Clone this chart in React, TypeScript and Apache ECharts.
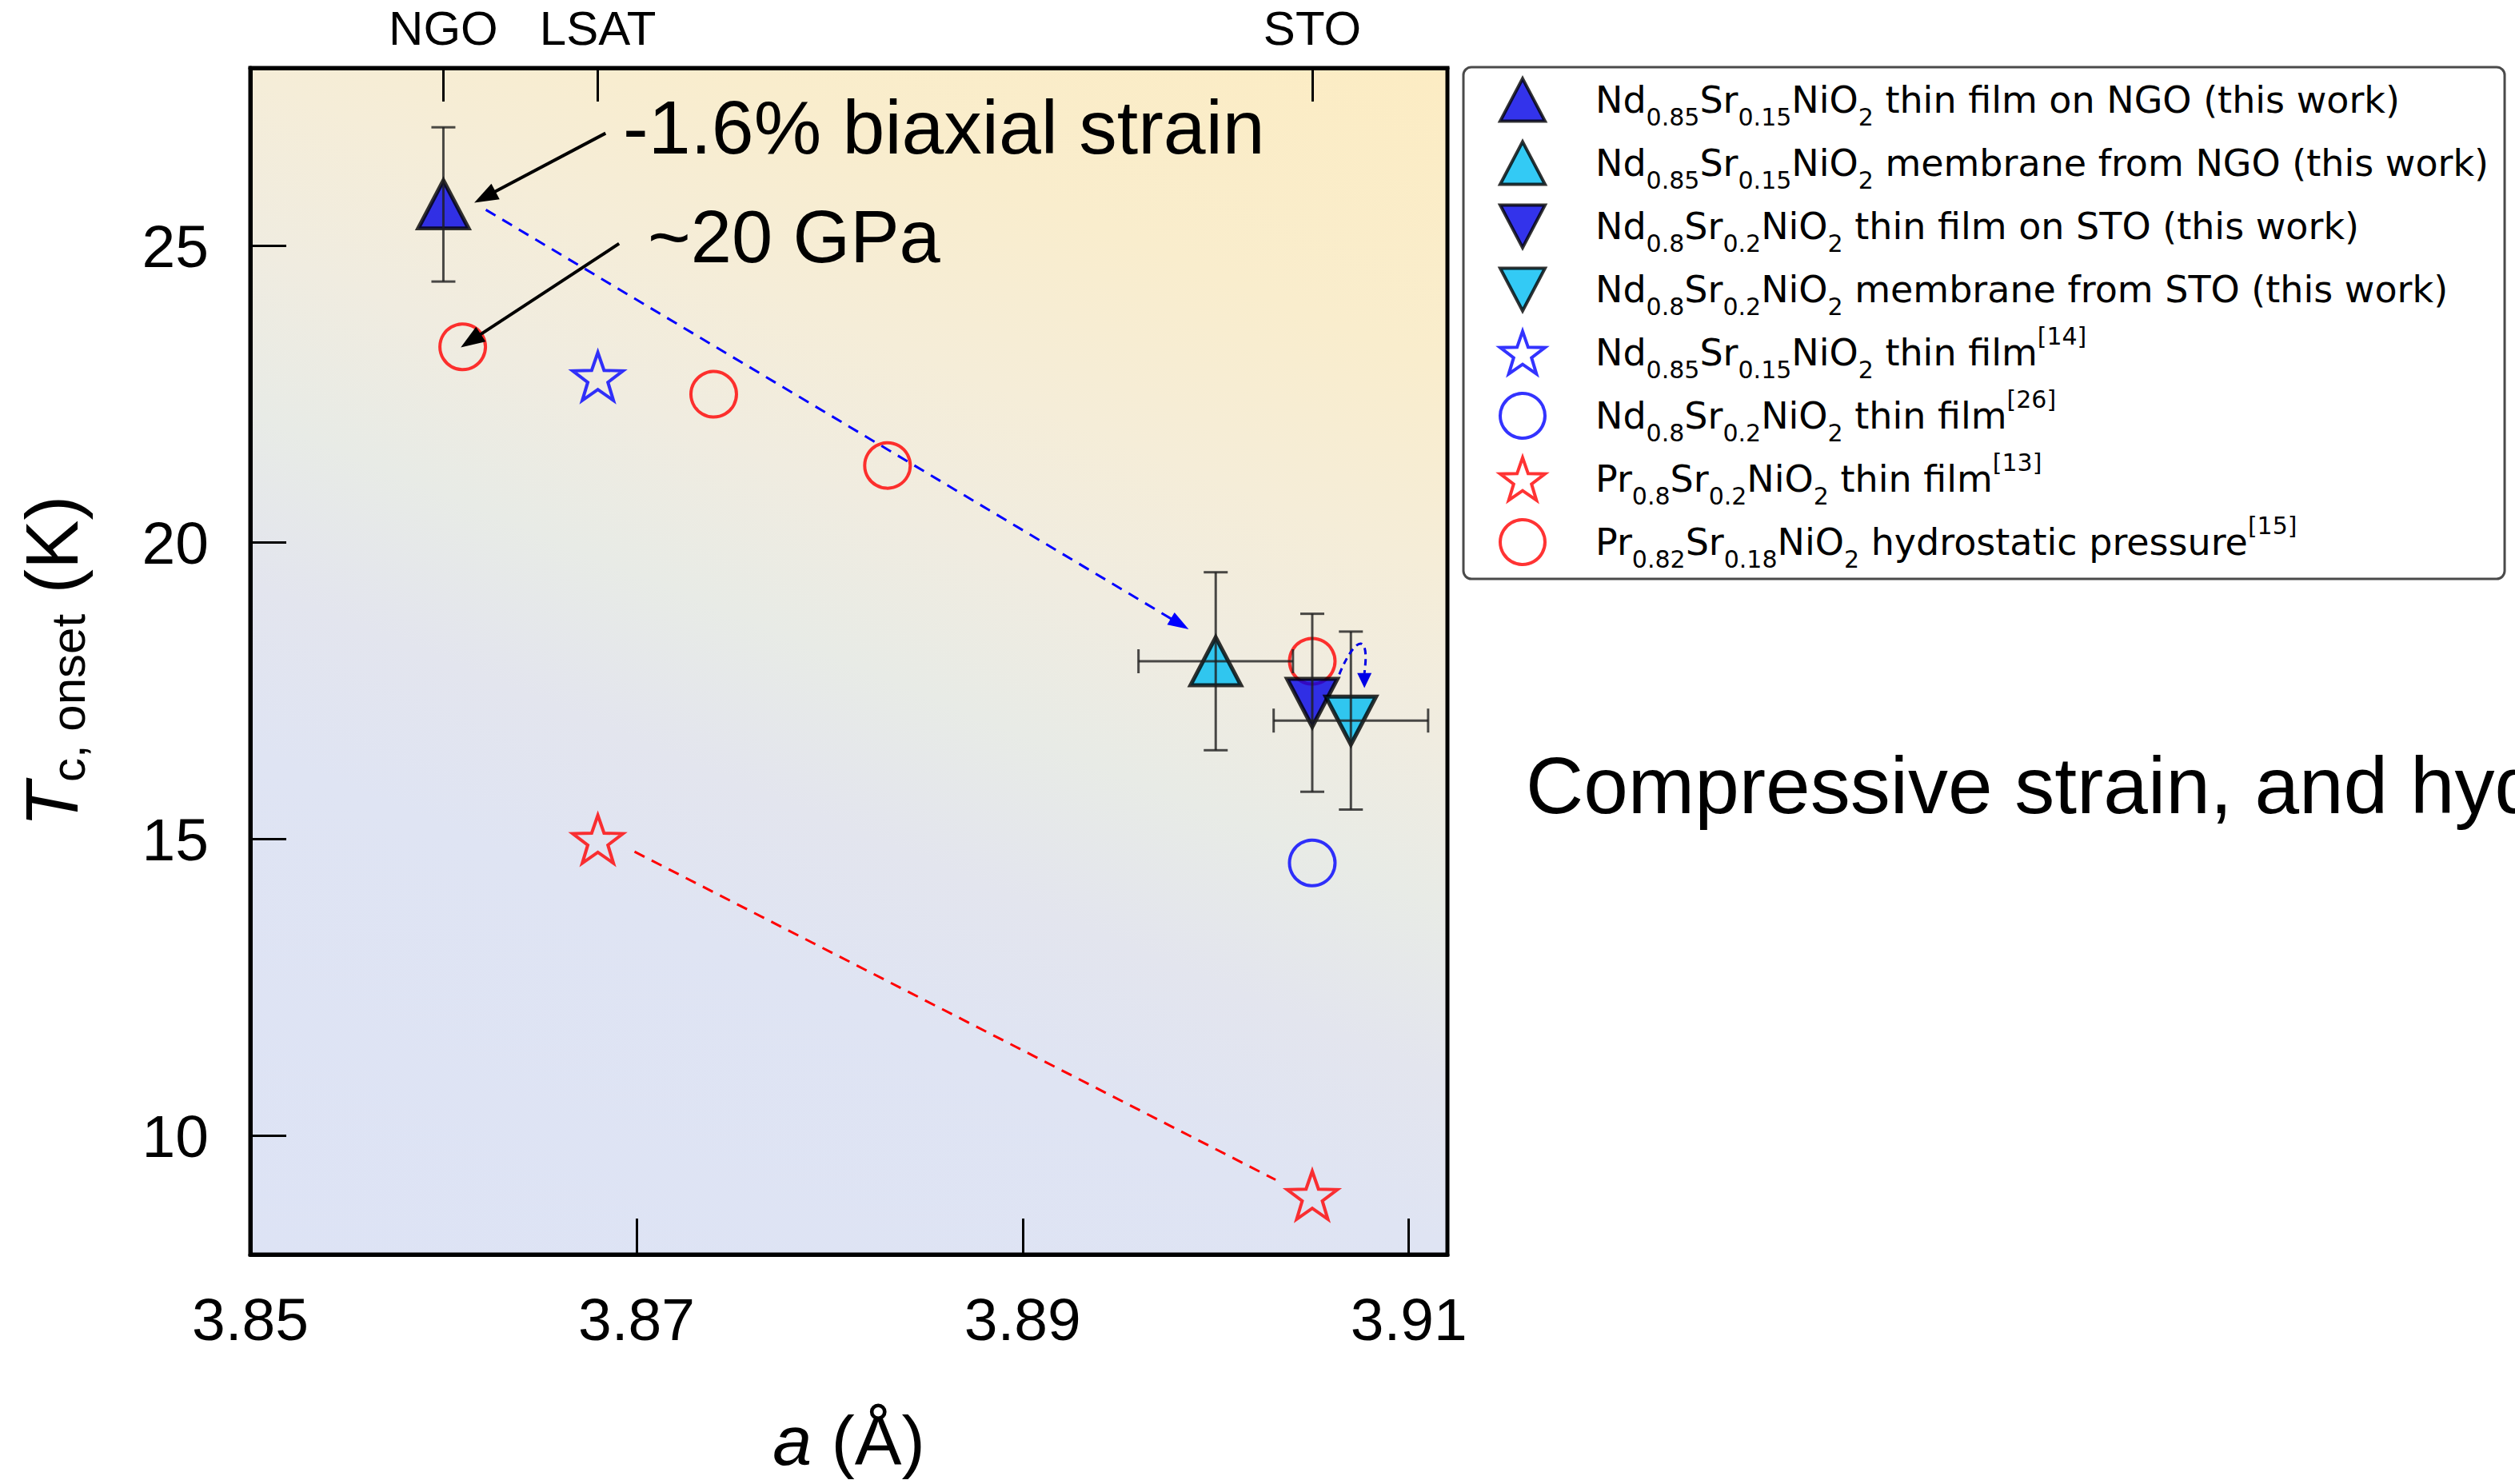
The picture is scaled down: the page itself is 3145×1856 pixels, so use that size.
import React, { useEffect, useRef } from "react";
import * as echarts from "echarts";

// ---------- axes ----------
const X_MIN = 3.85;
const X_MAX = 3.912;
const Y_MIN = 8;
const Y_MAX = 28;
const xTickValues = [3.85, 3.87, 3.89, 3.91];
const yTickValues = [10, 15, 20, 25];
const substrateNames = ["NGO", "LSAT", "STO"];
const substrateLattice = [3.86, 3.868, 3.905];

// ---------- series ----------
const seriesNames = [
  "Nd0.85Sr0.15NiO2 thin film on NGO (this work)",
  "Nd0.85Sr0.15NiO2 membrane from NGO (this work)",
  "Nd0.8Sr0.2NiO2 thin film on STO (this work)",
  "Nd0.8Sr0.2NiO2 membrane from STO (this work)",
  "Nd0.85Sr0.15NiO2 thin film[14]",
  "Nd0.8Sr0.2NiO2 thin film[26]",
  "Pr0.8Sr0.2NiO2 thin film[13]",
  "Pr0.82Sr0.18NiO2 hydrostatic pressure[15]",
];
const filmOnNGO = [[3.86, 25.7]];
const membraneFromNGO = [[3.9, 18.0]];
const filmOnSTO = [[3.905, 17.3]];
const membraneFromSTO = [[3.907, 17.0]];
const ndFilmRef14 = [[3.868, 22.8]];
const ndFilmRef26 = [[3.905, 14.6]];
const prFilmRef13 = [
  [3.868, 15.0],
  [3.905, 9.0],
];
const prPressureRef15 = [
  [3.861, 23.3],
  [3.874, 22.5],
  [3.883, 21.3],
  [3.905, 18.0],
];

// [a, Tc, Tc low, Tc high, a half-error]
const errorBars = [
  [3.86, 25.7, 24.4, 27.0, 0],
  [3.9, 18.0, 16.5, 19.5, 0.004],
  [3.905, 17.3, 15.8, 18.8, 0],
  [3.907, 17.0, 15.5, 18.5, 0.004],
];

// ---------- annotations (data coordinates): [start a, start Tc, tip a, tip Tc] ----------
const blackArrows = [
  [3.8684, 26.9, 3.8616, 25.73],
  [3.8691, 25.04, 3.8609, 23.29],
];
const membraneArrow = [[3.8622, 25.61, 3.8986, 18.54]];
const prGuide = [[3.8699, 14.79, 3.9031, 9.26]];
// start, control 1, control 2, shaft end, arrow tip
const stoHook = [
  [3.9064, 17.78],
  [3.9072, 18.41],
  [3.908, 18.52],
  [3.9077, 17.8],
  [3.9077, 17.55],
];

const FONT = "Liberation Sans";
const LEGEND_FONT = "DejaVu Sans";

const TRI_UP = "path://M50,0 L100,95 L0,95 Z";
const TRI_DOWN = "path://M0,0 L100,0 L50,95 Z";
const STAR =
  "path://M50,0 L61.76,33.82 L97.55,34.55 L69.02,56.18 L79.39,90.45 L50,70 L20.61,90.45 L30.98,56.18 L2.45,34.55 L38.24,33.82 Z";

const DARK_BLUE = "#0000e6";
const CYAN = "#00bdf2";
const BLUE = "#0000ff";
const RED = "#ff0000";
const CLEAR = "rgba(0,0,0,0)";

function legendRich(name: string): string {
  const m = name.match(/^(\S+)(.*?)(\[\d+\])?$/);
  if (!m) return name;
  let s = "{sp| }";
  m[1].replace(/([A-Z][a-z]?)([\d.]*)/g, (_: string, el: string, num: string) => {
    s += `{n|${el}}`;
    if (num) s += `{b|${num}}`;
    return "";
  });
  s += `{n|${m[2]}}`;
  if (m[3]) s += `{p|${m[3]}}`;
  return s;
}

function substrateLabel(v: number): string {
  let best = 0;
  substrateLattice.forEach((a, i) => {
    if (Math.abs(a - v) < Math.abs(substrateLattice[best] - v)) best = i;
  });
  return substrateNames[best];
}

function arrowSeries(
  name: string,
  data: number[][],
  color: string,
  width: number,
  dash: number[] | null,
  headLen: number,
  headHalf: number,
  z: number
) {
  return {
    name,
    type: "custom",
    data,
    encode: { x: [0, 2], y: [1, 3] },
    clip: false,
    silent: true,
    z,
    renderItem: (_params: any, api: any) => {
      const p1 = api.coord([api.value(0), api.value(1)]);
      const p2 = api.coord([api.value(2), api.value(3)]);
      const dx = p2[0] - p1[0];
      const dy = p2[1] - p1[1];
      const len = Math.hypot(dx, dy) || 1;
      const ux = dx / len;
      const uy = dy / len;
      const children: any[] = [];
      const endX = headLen > 0 ? p2[0] - ux * headLen * 0.9 : p2[0];
      const endY = headLen > 0 ? p2[1] - uy * headLen * 0.9 : p2[1];
      const ls: any = { stroke: color, lineWidth: width, fill: "none" };
      if (dash) ls.lineDash = dash;
      children.push({ type: "line", shape: { x1: p1[0], y1: p1[1], x2: endX, y2: endY }, style: ls });
      if (headLen > 0) {
        const bx = p2[0] - ux * headLen;
        const by = p2[1] - uy * headLen;
        children.push({
          type: "polygon",
          shape: {
            points: [
              [p2[0], p2[1]],
              [bx - uy * headHalf, by + ux * headHalf],
              [bx + uy * headHalf, by - ux * headHalf],
            ],
          },
          style: { fill: color },
        });
      }
      return { type: "group", children };
    },
  };
}

export default function App() {
  const ref = useRef<HTMLDivElement>(null);

  useEffect(() => {
    if (!ref.current) return;
    const chart = echarts.init(ref.current, undefined, { renderer: "svg" });

    const errStyle = { stroke: "rgba(30,30,30,0.8)", lineWidth: 3 };
    const cap = 15;

    const option: any = {
      animation: false,
      backgroundColor: "#ffffff",
      grid: {
        left: 313,
        top: 85,
        width: 1497,
        height: 1485,
        show: true,
        borderColor: "#000",
        borderWidth: 5,
        backgroundColor: new echarts.graphic.LinearGradient(0.247, 1.103, 0.753, -0.103, [
          { offset: 0, color: "#dde3f5" },
          { offset: 0.3, color: "#dfe4f3" },
          { offset: 0.4, color: "#e3e5ee" },
          { offset: 0.5, color: "#e8ebe6" },
          { offset: 0.6, color: "#f0ece0" },
          { offset: 0.7, color: "#f5edd8" },
          { offset: 0.82, color: "#f9edcd" },
          { offset: 1, color: "#fcecc3" },
        ]),
      },
      xAxis: [
        {
          type: "value",
          min: X_MIN,
          max: X_MAX,
          position: "bottom",
          axisLine: { show: true, lineStyle: { color: "#000", width: 5 } },
          axisTick: {
            show: true,
            inside: true,
            length: 45,
            lineStyle: { color: "#000", width: 3 },
            customValues: xTickValues,
          },
          axisLabel: {
            show: true,
            customValues: xTickValues,
            formatter: (v: number) => v.toFixed(2),
            fontFamily: FONT,
            fontSize: 75,
            color: "#000",
            margin: 43,
          },
          splitLine: { show: false },
          name: "{i|a} (Å)",
          nameLocation: "middle",
          nameGap: 182,
          nameTextStyle: {
            fontFamily: FONT,
            fontSize: 88,
            color: "#000",
            lineHeight: 100,
            rich: {
              i: { fontFamily: FONT, fontStyle: "italic", fontSize: 88, lineHeight: 100, color: "#000" },
            },
          },
        },
        {
          type: "value",
          min: X_MIN,
          max: X_MAX,
          position: "top",
          axisLine: { show: true, lineStyle: { color: "#000", width: 5 } },
          axisTick: {
            show: true,
            inside: true,
            length: 42,
            lineStyle: { color: "#000", width: 3 },
            customValues: substrateLattice,
          },
          axisLabel: {
            show: true,
            customValues: substrateLattice,
            formatter: (v: number) => substrateLabel(v),
            fontFamily: FONT,
            fontSize: 60,
            color: "#000",
            margin: 20,
          },
          splitLine: { show: false },
        },
      ],
      yAxis: {
        type: "value",
        min: Y_MIN,
        max: Y_MAX,
        axisLine: { show: true, lineStyle: { color: "#000", width: 5 } },
        axisTick: {
          show: true,
          inside: true,
          length: 45,
          lineStyle: { color: "#000", width: 3 },
          customValues: yTickValues,
        },
        axisLabel: {
          show: true,
          customValues: yTickValues,
          fontFamily: FONT,
          fontSize: 75,
          color: "#000",
          margin: 52,
        },
        splitLine: { show: false },
        name: "{i|T}{s|c, onset}{n| (K)}",
        nameLocation: "middle",
        nameGap: 198,
        nameTextStyle: {
          fontFamily: FONT,
          fontSize: 92,
          color: "#000",
          rich: {
            i: { fontFamily: FONT, fontStyle: "italic", fontSize: 92, lineHeight: 100, color: "#000" },
            s: { fontFamily: FONT, fontSize: 60, lineHeight: 54, verticalAlign: "bottom", color: "#000" },
            n: { fontFamily: FONT, fontSize: 92, lineHeight: 100, color: "#000" },
          },
        },
      },
      legend: {
        orient: "vertical",
        left: 1830,
        top: 84,
        padding: [5, 20, 10, 44],
        itemGap: 7,
        itemWidth: 56,
        itemHeight: 56,
        selectedMode: false,
        backgroundColor: "#ffffff",
        borderColor: "#4a4a4a",
        borderWidth: 3,
        borderRadius: 10,
        itemStyle: { borderWidth: 4 },
        data: seriesNames,
        formatter: (name: string) => legendRich(name),
        textStyle: {
          fontFamily: LEGEND_FONT,
          fontSize: 46,
          color: "#000",
          lineHeight: 72,
          rich: {
            sp: { width: 58, fontSize: 46, lineHeight: 72, fontFamily: LEGEND_FONT },
            n: { fontSize: 46, lineHeight: 72, fontFamily: LEGEND_FONT, color: "#000" },
            b: { fontSize: 30, lineHeight: 45, verticalAlign: "bottom", fontFamily: LEGEND_FONT, color: "#000" },
            p: { fontSize: 30, lineHeight: 28, verticalAlign: "top", fontFamily: LEGEND_FONT, color: "#000" },
          },
        },
      },
      graphic: [
        {
          type: "text",
          x: 779,
          y: 159,
          z: 100,
          style: {
            text: "-1.6% biaxial strain",
            fontFamily: FONT,
            fontSize: 95,
            fill: "#000",
            align: "left",
            verticalAlign: "middle",
          },
        },
        {
          type: "text",
          x: 810,
          y: 296,
          z: 100,
          style: {
            text: "~20 GPa",
            fontFamily: FONT,
            fontSize: 92,
            fill: "#000",
            align: "left",
            verticalAlign: "middle",
          },
        },
        {
          type: "text",
          x: 1908,
          y: 982,
          z: 100,
          style: {
            text: "Compressive strain, and hydrostatic pressure",
            fontFamily: FONT,
            fontSize: 100,
            fill: "#000",
            align: "left",
            verticalAlign: "middle",
          },
        },
      ],
      series: [
        {
          name: seriesNames[4],
          type: "scatter",
          data: ndFilmRef14,
          symbol: STAR,
          symbolSize: [63, 60],
          itemStyle: { color: CLEAR, borderColor: BLUE, borderWidth: 4 },
          z: 3,
        },
        {
          name: seriesNames[5],
          type: "scatter",
          data: ndFilmRef26,
          symbol: "circle",
          symbolSize: 57,
          itemStyle: { color: CLEAR, borderColor: BLUE, borderWidth: 4 },
          z: 3,
        },
        {
          name: seriesNames[6],
          type: "scatter",
          data: prFilmRef13,
          symbol: STAR,
          symbolSize: [63, 60],
          itemStyle: { color: CLEAR, borderColor: RED, borderWidth: 4 },
          z: 3,
        },
        {
          name: seriesNames[7],
          type: "scatter",
          data: prPressureRef15,
          symbol: "circle",
          symbolSize: 57,
          itemStyle: { color: CLEAR, borderColor: RED, borderWidth: 4 },
          z: 3,
        },
        {
          name: seriesNames[0],
          type: "scatter",
          data: filmOnNGO,
          symbol: TRI_UP,
          symbolSize: [63, 60],
          itemStyle: { color: DARK_BLUE, borderColor: "#000", borderWidth: 5 },
          z: 4,
        },
        {
          name: seriesNames[1],
          type: "scatter",
          data: membraneFromNGO,
          symbol: TRI_UP,
          symbolSize: [63, 60],
          itemStyle: { color: CYAN, borderColor: "#000", borderWidth: 5 },
          z: 4,
        },
        {
          name: seriesNames[2],
          type: "scatter",
          data: filmOnSTO,
          symbol: TRI_DOWN,
          symbolSize: [63, 60],
          itemStyle: { color: DARK_BLUE, borderColor: "#000", borderWidth: 5 },
          z: 4,
        },
        {
          name: seriesNames[3],
          type: "scatter",
          data: membraneFromSTO,
          symbol: TRI_DOWN,
          symbolSize: [63, 60],
          itemStyle: { color: CYAN, borderColor: "#000", borderWidth: 5 },
          z: 4,
        },
        {
          name: "error bars",
          type: "custom",
          data: errorBars,
          encode: { x: 0, y: 1 },
          clip: false,
          silent: true,
          z: 5,
          renderItem: (_params: any, api: any) => {
            const x = api.value(0);
            const lo = api.value(2);
            const hi = api.value(3);
            const xe = api.value(4);
            const y = api.value(1);
            const top = api.coord([x, hi]);
            const bot = api.coord([x, lo]);
            const children: any[] = [
              { type: "line", shape: { x1: top[0], y1: top[1], x2: bot[0], y2: bot[1] }, style: errStyle },
              { type: "line", shape: { x1: top[0] - cap, y1: top[1], x2: top[0] + cap, y2: top[1] }, style: errStyle },
              { type: "line", shape: { x1: bot[0] - cap, y1: bot[1], x2: bot[0] + cap, y2: bot[1] }, style: errStyle },
            ];
            if (xe > 0) {
              const l = api.coord([x - xe, y]);
              const r = api.coord([x + xe, y]);
              children.push(
                { type: "line", shape: { x1: l[0], y1: l[1], x2: r[0], y2: r[1] }, style: errStyle },
                { type: "line", shape: { x1: l[0], y1: l[1] - cap, x2: l[0], y2: l[1] + cap }, style: errStyle },
                { type: "line", shape: { x1: r[0], y1: r[1] - cap, x2: r[0], y2: r[1] + cap }, style: errStyle }
              );
            }
            return { type: "group", children };
          },
        },
        {
          name: "STO hook",
          type: "custom",
          data: [stoHook[0]],
          encode: { x: 0, y: 1 },
          clip: false,
          silent: true,
          z: 6,
          renderItem: (_params: any, api: any) => {
            const p = stoHook.map((d) => api.coord(d));
            const tip = p[4];
            const base = p[3];
            const dx = tip[0] - base[0];
            const dy = tip[1] - base[1];
            const len = Math.hypot(dx, dy) || 1;
            const nx = -dy / len;
            const ny = dx / len;
            const hw = 9;
            return {
              type: "group",
              children: [
                {
                  type: "bezierCurve",
                  shape: {
                    x1: p[0][0],
                    y1: p[0][1],
                    cpx1: p[1][0],
                    cpy1: p[1][1],
                    cpx2: p[2][0],
                    cpy2: p[2][1],
                    x2: p[3][0],
                    y2: p[3][1],
                  },
                  style: { stroke: DARK_BLUE, lineWidth: 3, lineDash: [8, 6], fill: "none" },
                },
                {
                  type: "polygon",
                  shape: {
                    points: [
                      [tip[0], tip[1]],
                      [base[0] + nx * hw, base[1] + ny * hw],
                      [base[0] - nx * hw, base[1] - ny * hw],
                    ],
                  },
                  style: { fill: DARK_BLUE },
                },
              ],
            };
          },
        },
        arrowSeries("annotation arrows", blackArrows, "#000", 4, null, 30, 11, 7),
        arrowSeries("membrane arrow", membraneArrow, BLUE, 3, [14, 10], 26, 9, 6),
        arrowSeries("Pr guide", prGuide, RED, 3, [14, 10], 0, 0, 6),
      ],
    };

    chart.setOption(option);
    return () => {
      chart.dispose();
    };
  }, []);

  return (
    <div
      ref={ref}
      style={{ position: "absolute", left: 0, top: 0, width: 3145, height: 1856, overflow: "hidden" }}
    />
  );
}
